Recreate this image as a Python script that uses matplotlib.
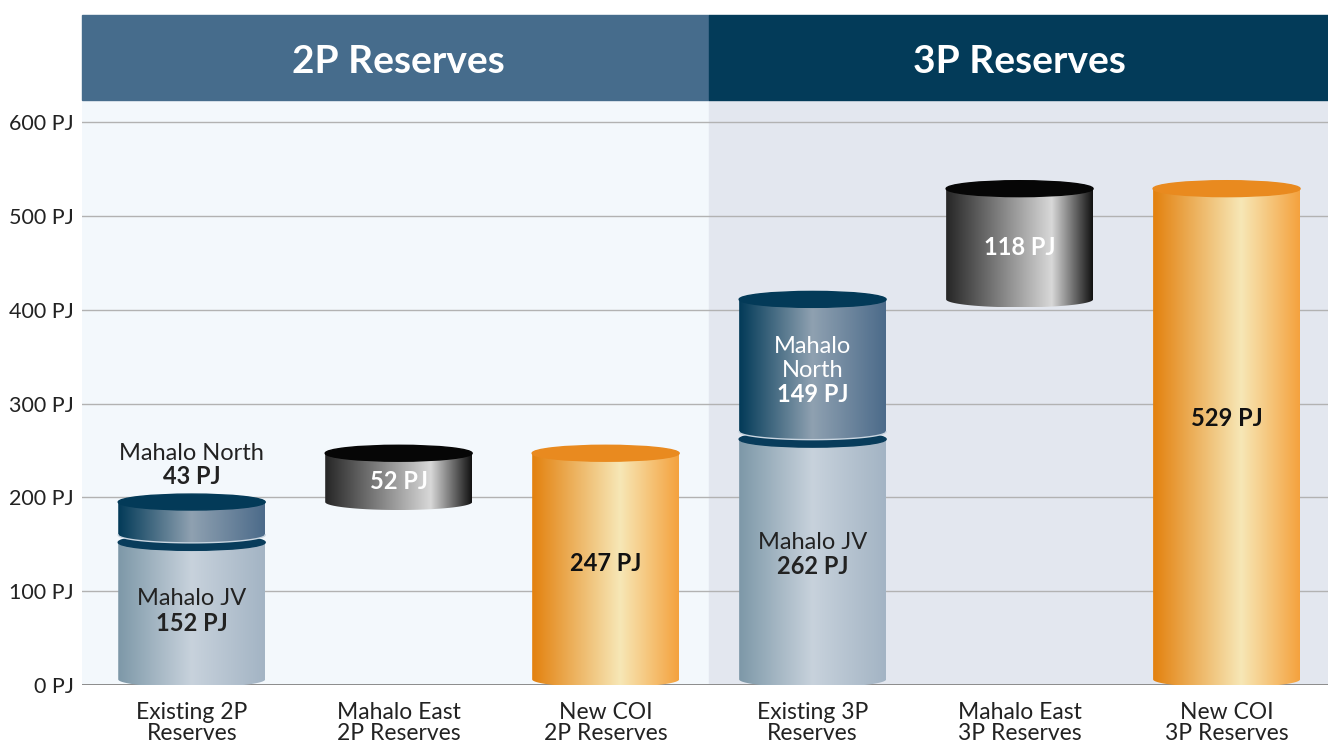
import numpy as np
import matplotlib.pyplot as plt
import matplotlib.transforms as mtransforms
from matplotlib.patches import Ellipse, Rectangle, PathPatch
from matplotlib.path import Path
from matplotlib.colors import LinearSegmentedColormap

plt.rcParams['font.family'] = ['Lato', 'DejaVu Sans']

# data (PJ)
groups = ["2P Reserves", "3P Reserves"]
categories = ["Existing 2P\nReserves", "Mahalo East\n2P Reserves", "New COI\n2P Reserves",
              "Existing 3P\nReserves", "Mahalo East\n3P Reserves", "New COI\n3P Reserves"]
mahalo_jv = [152, 262]
mahalo_north = [43, 149]
mahalo_east = [52, 118]
new_coi = [247, 529]
yticks = [0, 100, 200, 300, 400, 500, 600]

# colours
cm_jv = LinearSegmentedColormap.from_list("jv", ["#7d98a8", "#c8d2dc", "#a3b4c4"])
cm_north = LinearSegmentedColormap.from_list("north", ["#023a58", "#8fa1b1", "#4c6b8a"])
cm_east = LinearSegmentedColormap.from_list("east", [(0, "#262626"), (0.72, "#d8d8d8"), (1, "#121212")])
cm_coi = LinearSegmentedColormap.from_list("coi", [(0, "#e3810e"), (0.6, "#f7e7b6"), (1, "#f4a23e")])

W = 0.71   # cylinder width (category units)
H = 8.5    # half height of the ellipses (PJ)
grad = np.linspace(0, 1, 256).reshape(1, -1)
FS = 17


def cylinder(ax, x, y0, y1, cmap, top, z=3, rim=None):
    x0, x1 = x - W / 2, x + W / 2
    t = np.linspace(np.pi, 2 * np.pi, 60)
    verts = [(x0, y1), (x0, y0)] + list(zip(x + W / 2 * np.cos(t), y0 + H * np.sin(t))) + [(x1, y1), (x0, y1)]
    codes = [Path.MOVETO] + [Path.LINETO] * (len(verts) - 2) + [Path.CLOSEPOLY]
    body = PathPatch(Path(verts, codes), facecolor="none", edgecolor="none", zorder=z)
    ax.add_patch(body)
    im = ax.imshow(grad, extent=(x0, x1, y0 - H, y1), aspect="auto", cmap=cmap, zorder=z)
    im.set_clip_path(body)
    if rim:
        ax.plot(x + W / 2 * np.cos(t), y0 + H * np.sin(t), color=rim, lw=1.0, zorder=z + 0.1)
    ax.add_patch(Ellipse((x, y1), W, 2 * H, color=top, zorder=z + 0.2))


fig = plt.figure(figsize=(13.28, 7.44), dpi=100)
ax = fig.add_axes([82 / 1328, 59 / 744, 1246 / 1328, 585 / 744])

xmin, xmax = -0.53, 5.49
ymax = 623.5
bt = mtransforms.blended_transform_factory(ax.transData, ax.transAxes)

# backgrounds and header bands
ax.add_patch(Rectangle((xmin, 0), 2.5 - xmin, 1, transform=bt, color="#f3f8fc", zorder=0.1))
ax.add_patch(Rectangle((2.5, 0), xmax - 2.5, 1, transform=bt, color="#e3e7ef", zorder=0.1))
hb = 85 / 585
ax.add_patch(Rectangle((xmin, 1), 2.5 - xmin, hb, transform=bt, color="#466c8c", clip_on=False))
ax.add_patch(Rectangle((2.5, 1), xmax - 2.5, hb, transform=bt, color="#033b59", clip_on=False))
for g, name in enumerate(groups):
    ax.text(3 * g + 1, 1 + hb / 2 - 0.006, name, transform=bt, ha="center", va="center",
            color="white", fontsize=28, fontweight="bold")

lbl = dict(ha="center", va="center", fontsize=FS, zorder=10)
for g in range(2):
    xe, xm, xc = 3 * g, 3 * g + 1, 3 * g + 2
    jv, no, ea, co = mahalo_jv[g], mahalo_north[g], mahalo_east[g], new_coi[g]
    # existing: JV + North
    cylinder(ax, xe, 6, jv, cm_jv, "#083c5b", z=3)
    cylinder(ax, xe, jv + 8, jv + no, cm_north, "#033a58", z=4, rim="#c9d5e0")
    # Mahalo East (floating)
    cylinder(ax, xm, jv + no, jv + no + ea, cm_east, "#060606", z=3)
    # New COI
    cylinder(ax, xc, 6, co, cm_coi, "#e98a1f", z=3)

    ax.text(xe, jv / 2 + (16 if g == 0 else 21), "Mahalo JV", color="#222222", **lbl)
    ax.text(xe, jv / 2 + (-10 if g == 0 else -5), f"{jv} PJ", fontweight="bold", color="#222222", **lbl)
    if g == 0:
        ax.text(xe, jv + no + 52, "Mahalo North", color="#222222", **lbl)
        ax.text(xe, jv + no + 27, f"{no} PJ", fontweight="bold", color="#222222", **lbl)
    else:
        mid = jv + no / 2 - 1
        ax.text(xe, mid + 25.6, "Mahalo", color="white", **lbl)
        ax.text(xe, mid, "North", color="white", **lbl)
        ax.text(xe, mid - 25.6, f"{no} PJ", fontweight="bold", color="white", **lbl)
    ax.text(xm, jv + no + ea / 2 - 4, f"{ea} PJ", fontweight="bold", color="white", **lbl)
    ax.text(xc, co / 2 + (6 if g == 0 else 20), f"{co} PJ", fontweight="bold", color="#111111", **lbl)

ax.set_xlim(xmin, xmax)
ax.set_ylim(0, ymax)
ax.set_yticks(yticks)
ax.set_yticklabels([f"{v} PJ" for v in yticks])
ax.set_xticks(range(len(categories)))
ax.set_xticklabels(categories)
ax.tick_params(axis="y", length=0, pad=6, labelsize=15.5, labelcolor="#222222")
ax.tick_params(axis="x", length=0, pad=12, labelsize=16.5, labelcolor="#222222")
for lab in ax.get_xticklabels():
    lab.set_linespacing(1.0)
ax.set_axisbelow(True)
ax.yaxis.grid(True, color="#b2b2b2", lw=1, zorder=0.5)
ax.axhline(0, color="#8c8c8c", lw=1.4, zorder=0.6)
for s in ax.spines.values():
    s.set_visible(False)

fig.savefig("out.png", dpi=100)
